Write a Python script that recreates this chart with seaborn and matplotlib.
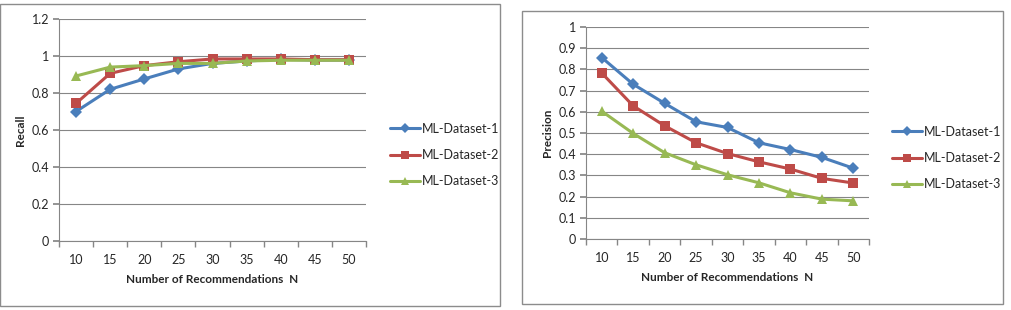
import numpy as np
import pandas as pd
import matplotlib
matplotlib.use("Agg")
import matplotlib.pyplot as plt
import seaborn as sns
from matplotlib.patches import Rectangle

n_values = [10, 15, 20, 25, 30, 35, 40, 45, 50]
datasets = ["ML-Dataset-1", "ML-Dataset-2", "ML-Dataset-3"]

recall_1 = [0.70, 0.82, 0.876, 0.93, 0.96, 0.973, 0.982, 0.978, 0.978]
recall_2 = [0.744, 0.906, 0.948, 0.969, 0.984, 0.984, 0.984, 0.98, 0.98]
recall_3 = [0.892, 0.94, 0.948, 0.96, 0.96, 0.973, 0.977, 0.977, 0.977]

precision_1 = [0.856, 0.73, 0.64, 0.553, 0.526, 0.454, 0.422, 0.385, 0.334]
precision_2 = [0.783, 0.628, 0.534, 0.454, 0.403, 0.364, 0.33, 0.286, 0.264]
precision_3 = [0.603, 0.498, 0.407, 0.35, 0.303, 0.265, 0.218, 0.188, 0.18]

colors = ["#4A7EBB", "#BE4B48", "#98B954"]
markers = ["D", "s", "^"]

sns.set_theme(style="white")
plt.rcParams["font.family"] = ["Lato", "DejaVu Sans"]


def make_df(series):
    rows = []
    for name, vals in zip(datasets, series):
        for i, v in enumerate(vals):
            rows.append({"pos": i, "value": v, "dataset": name})
    return pd.DataFrame(rows)


fig = plt.figure(figsize=(10.11, 3.10), dpi=100)

# chart frames
fig.patches.append(Rectangle((0.0, 1 - 306 / 310), 500 / 1011, 302 / 310,
                             transform=fig.transFigure, fill=False,
                             edgecolor="#8c8c8c", lw=1.0))
fig.patches.append(Rectangle((522 / 1011, 1 - 304 / 310), 481 / 1011, 293 / 310,
                             transform=fig.transFigure, fill=False,
                             edgecolor="#8c8c8c", lw=1.0))


def draw(ax, series, ylim, ystep, ylabel, yfmt, leg_anchor):
    df = make_df(series)
    sns.lineplot(data=df, x="pos", y="value", hue="dataset", style="dataset",
                 markers=markers, dashes=False, palette=colors, ax=ax,
                 linewidth=2.2, markersize=6.5, markeredgewidth=0)
    ax.set_xlim(-0.5, len(n_values) - 0.5)
    ax.set_ylim(*ylim)
    yt = np.arange(ylim[0], ylim[1] + 1e-9, ystep)
    ax.set_yticks(yt)
    ax.set_yticklabels([yfmt(v) for v in yt], fontsize=9)
    ax.set_xticks(range(len(n_values)))
    ax.set_xticklabels([str(n) for n in n_values], fontsize=9)
    ax.set_xticks(np.arange(-0.5, len(n_values)), minor=True)
    ax.tick_params(axis="x", which="major", length=0, pad=9)
    ax.tick_params(axis="x", which="minor", length=4, color="#868686",
                   direction="out", bottom=True)
    ax.tick_params(axis="y", length=4, color="#868686", direction="out",
                   left=True, pad=3)
    ax.yaxis.grid(True, color="#868686", lw=0.8)
    ax.set_axisbelow(True)
    for s in ["top", "right"]:
        ax.spines[s].set_visible(False)
    for s in ["left", "bottom"]:
        ax.spines[s].set_color("#868686")
        ax.spines[s].set_linewidth(0.8)
    ax.set_xlabel("Number of Recommendations  N", fontsize=8.5,
                  fontweight="bold", labelpad=6)
    ax.set_ylabel(ylabel, fontsize=8.5, fontweight="bold", labelpad=4)
    ax.legend(loc="center left", bbox_to_anchor=leg_anchor, frameon=False,
              fontsize=9, handlelength=2.4, handletextpad=0.15,
              labelspacing=1.15, markerscale=0.8)


def fmt_tick(v):
    return "0" if abs(v) < 1e-9 else ("1" if abs(v - 1) < 1e-9 else f"{v:.1f}")


ax1 = fig.add_axes([59 / 1011, 1 - 241 / 310, 307 / 1011, 222 / 310])
draw(ax1, [recall_1, recall_2, recall_3], (0, 1.2), 0.2, "Recall",
     fmt_tick, (1.04, 0.387))

ax2 = fig.add_axes([586 / 1011, 1 - 239 / 310, 283 / 1011, 212 / 310])
draw(ax2, [precision_1, precision_2, precision_3], (0, 1.0), 0.1, "Precision",
     fmt_tick, (1.04, 0.382))

fig.savefig("out.png", dpi=100)
